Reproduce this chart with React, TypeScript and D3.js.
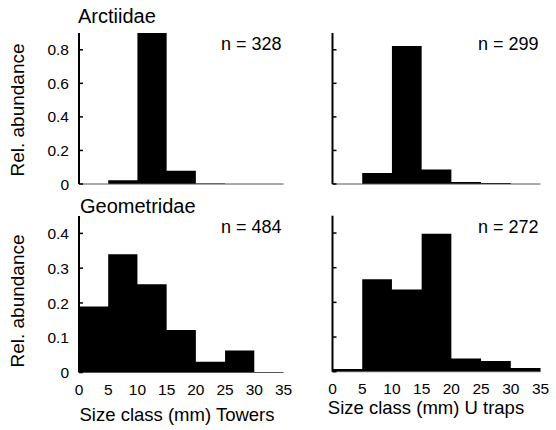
import React from 'react';
import * as d3 from 'd3';

// size class edges (mm) and tick labels
const sizeEdges = [0, 5, 10, 15, 20, 25, 30, 35];
const sizeTicks = [0, 5, 10, 15, 20, 25, 30, 35];

// relative abundance per 5 mm class
const arctiidaeTowers = [0, 0.022, 0.9, 0.079, 0.003, 0, 0];
const arctiidaeUTraps = [0, 0.065, 0.823, 0.087, 0.012, 0.006, 0];
const geometridaeTowers = [0.19, 0.34, 0.254, 0.122, 0.031, 0.063, 0];
const geometridaeUTraps = [0.008, 0.267, 0.237, 0.398, 0.038, 0.031, 0.011];

const topTicks = [0, 0.2, 0.4, 0.6, 0.8];
const bottomTicks = [0, 0.1, 0.2, 0.3, 0.4];

const FONT = '"Liberation Sans", Arial, Helvetica, sans-serif';

type PanelProps = {
  values: number[];
  n: number;
  yMax: number;
  ticks: number[];
  xRange: [number, number];
  yRange: [number, number];
  showYLabels?: boolean;
  showXLabels?: boolean;
};

const Panel = ({ values, n, yMax, ticks, xRange, yRange, showYLabels, showXLabels }: PanelProps) => {
  const x = d3.scaleLinear().domain([0, 35]).range(xRange);
  const y = d3.scaleLinear().domain([0, yMax]).range(yRange).clamp(true);
  const fmt = (v: number) => (v === 0 ? '0' : d3.format('.1f')(v));

  // one step outline for all bars, so neighbouring bars don't show seams
  const pts: [number, number][] = values.map((v, i) => [sizeEdges[i], v]);
  pts.push([sizeEdges[values.length], values[values.length - 1]]);
  const area = d3
    .area<[number, number]>()
    .x((d) => x(d[0]))
    .y0(y(0))
    .y1((d) => y(d[1]))
    .curve(d3.curveStepAfter);

  return (
    <g>
      <path d={area(pts) || ''} fill="#000" />
      {/* x baseline */}
      <line x1={x(0)} x2={x(35)} y1={y(0)} y2={y(0)} stroke="#555" strokeWidth={1} />
      {/* y axis */}
      <line x1={x(0)} x2={x(0)} y1={y(yMax)} y2={y(0)} stroke="#000" strokeWidth={2} />
      {ticks.map((t) => (
        <g key={t}>
          <line x1={x(0)} x2={x(0) + 4} y1={y(t)} y2={y(t)} stroke="#000" strokeWidth={1.5} />
          {showYLabels && (
            <text x={x(0) - 10} y={y(t)} dy="0.36em" textAnchor="end" fontSize={15.5} fontFamily={FONT}>
              {fmt(t)}
            </text>
          )}
        </g>
      ))}
      {showXLabels &&
        sizeTicks.map((t) => (
          <text key={t} x={x(t)} y={y(0) + 22} textAnchor="middle" fontSize={15.5} fontFamily={FONT}>
            {t}
          </text>
        ))}
      <text x={x(35) - 2} y={y(yMax) + 17} textAnchor="end" fontSize={18} fontFamily={FONT}>
        {`n = ${n}`}
      </text>
    </g>
  );
};

export default function App() {
  const leftX: [number, number] = [79, 283.5];
  const rightX: [number, number] = [332.5, 540.5];
  const topY: [number, number] = [184, 33];
  const botY: [number, number] = [372.5, 216];

  return (
    <svg width={556} height={430} style={{ position: 'absolute', left: 0, top: 0, background: '#fff' }}>
      <rect width={556} height={430} fill="#fff" />
      <text x={78} y={23} fontSize={20} fontFamily={FONT}>Arctiidae</text>
      <text x={80} y={213} fontSize={20} fontFamily={FONT}>Geometridae</text>

      <Panel values={arctiidaeTowers} n={328} yMax={0.9} ticks={topTicks} xRange={leftX} yRange={topY} showYLabels />
      <Panel values={arctiidaeUTraps} n={299} yMax={0.9} ticks={topTicks} xRange={rightX} yRange={topY} />
      <Panel values={geometridaeTowers} n={484} yMax={0.45} ticks={bottomTicks} xRange={leftX} yRange={botY} showYLabels showXLabels />
      <Panel values={geometridaeUTraps} n={272} yMax={0.45} ticks={bottomTicks} xRange={rightX} yRange={[371.7, 215.7]} showXLabels />

      <text transform="translate(24,110) rotate(-90)" textAnchor="middle" fontSize={19} fontFamily={FONT}>Rel. abundance</text>
      <text transform="translate(24,301) rotate(-90)" textAnchor="middle" fontSize={19} fontFamily={FONT}>Rel. abundance</text>

      <text x={177} y={421} textAnchor="middle" fontSize={18.5} fontFamily={FONT}>Size class (mm) Towers</text>
      <text x={426} y={414} textAnchor="middle" fontSize={18.5} fontFamily={FONT}>Size class (mm) U traps</text>
    </svg>
  );
}
